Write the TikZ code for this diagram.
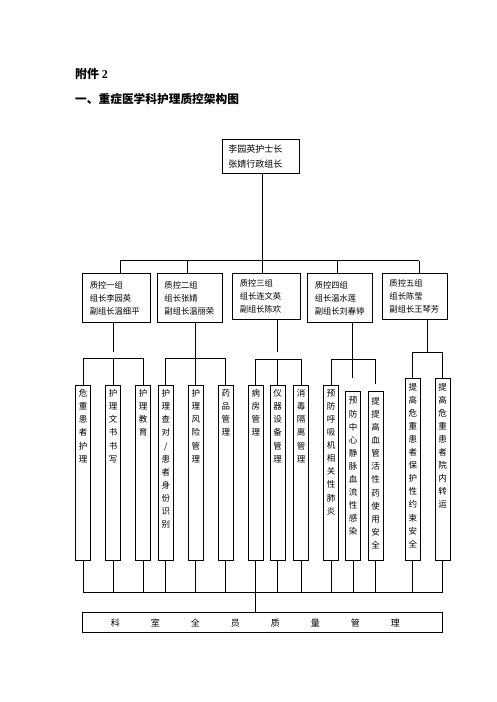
\documentclass[tikz,border=0pt]{standalone}
\usepackage{fontspec}
\setmainfont{Liberation Serif}
\newfontfamily\cjk{Noto Sans CJK SC}
\usetikzlibrary{positioning,calc}
\tikzset{
  org/line/.style={line width=0.9pt},
  org/head/.style={draw, line width=0.9pt, anchor=north west, align=left, inner xsep=6pt, inner ysep=0pt, font=\cjk\fontsize{9}{15.6}\selectfont},
  org/group/.style={draw, line width=0.9pt, anchor=north west, align=left, inner xsep=7pt, inner ysep=0pt, font=\cjk\fontsize{8.3}{13}\selectfont},
  org/col/.style={draw, line width=0.9pt, anchor=north, minimum width=15pt, inner sep=0pt},
  org/coltext/.style={anchor=north, align=center, inner sep=0pt, font=\cjk\fontsize{8.5}{13.1}\selectfont},
  org/all/.style={draw, line width=0.9pt, anchor=north west, minimum width=360pt, minimum height=20pt, text width=360pt, inner xsep=0pt, inner ysep=0pt, align=left, font=\cjk\fontsize{9}{11}\selectfont},
  org/title/.style={anchor=west, inner sep=0pt, font=\cjk\bfseries\fontsize{11.7}{14}\selectfont}
}

\begin{document}
\begin{tikzpicture}[x=1pt,y=-1pt]
\useasboundingbox (0,0) rectangle (496,702);

\node[org/title, font=\cjk\bfseries\fontsize{12}{14}\selectfont] (att) at (75,74) {附件 {\rmfamily\bfseries 2}};
\node[org/title] (sec) at (75,99.3) {一、重症医学科护理质控架构图};

\node[org/head, text width=65pt, minimum height=34pt] (head) at (222,139) {李园英护士长\\张婧行政组长};

\foreach \gn/\gx/\gw/\gh/\gtxt in {
  g1/82.3/54pt/48.4/{质控一组\\组长李园英\\副组长温细平},
  g2/157/50.7pt/48.4/{质控二组\\组长张婧\\副组长温丽荣},
  g3/232.3/54pt/45.7/{质控三组\\组长连文英\\副组长陈欢},
  g4/307.3/50.4pt/48.4/{质控四组\\组长温水莲\\副组长刘春婷},
  g5/382/50.7pt/45.7/{质控五组\\组长陈莹\\副组长王琴芳}}
  \node[org/group, text width=\gw, minimum height=\gh pt] (\gn) at (\gx,273.3) {\gtxt};

\foreach \cn/\cx/\ct/\cf/\ctxt in {
  c1/83.2/385/393.3/{危\\重\\患\\者\\护\\理},
  c2/113/385/393.3/{护\\理\\文\\书\\书\\写},
  c3/143/385/393.3/{护\\理\\教\\育},
  c4/165.8/385/393.3/{护\\理\\查\\对\\/\\患\\者\\身\\份\\识\\别},
  c5/195.8/385/393.3/{护\\理\\风\\险\\管\\理},
  c6/225.8/385/393.3/{药\\品\\管\\理},
  c7/255.8/385/393.3/{病\\房\\管\\理},
  c8/277.7/385/393.3/{仪\\器\\设\\备\\管\\理},
  c9/301/385/393.3/{消\\毒\\隔\\离\\管\\理},
  c10/331/385/393.3/{预\\防\\呼\\吸\\机\\相\\关\\性\\肺\\炎},
  c11/353/390.7/401/{预\\防\\中\\心\\静\\脉\\血\\流\\性\\感\\染},
  c12/375.5/390.7/401/{提\\提\\高\\血\\管\\活\\性\\药\\使\\用\\安\\全},
  c13/412.8/378.3/386.7/{提\\高\\危\\重\\患\\者\\保\\护\\性\\约\\束\\安\\全},
  c14/442.7/378.3/386.7/{提\\高\\危\\重\\患\\者\\院\\内\\转\\运}} {
  \node[org/col, minimum height={560pt-\ct pt}] (\cn) at (\cx,\ct) {};
  \node[org/coltext] (\cn t) at (\cx,\cf-4) {\ctxt};
}

\node[org/all] (all) at (82.3,612.3) {\hspace*{28.2pt}科\hspace{31pt}室\hspace{31pt}全\hspace{31pt}员\hspace{31pt}质\hspace{31pt}量\hspace{31pt}管\hspace{31pt}理};

\coordinate (hub) at (262.3,260.7);
\foreach \i/\x in {1/120,2/187.3,3/262.3,4/337.3,5/419.3}
  \coordinate (b\i) at (\x,260.7);
\draw[org/line] (head.south -| hub) -- (hub);
\draw[org/line] (b1) -- (b5);
\foreach \i in {1,...,5}
  \draw[org/line] (b\i) -- (b\i |- g\i.north);

\coordinate (u1) at (0,358.3);
\coordinate (u2) at (0,358);
\coordinate (u3) at (0,359);
\coordinate (u4) at (0,359);
\coordinate (u5) at (0,352.3);
\coordinate (s1) at (113,352.3);
\coordinate (s3) at (277.7,352.3);
\coordinate (s4) at (352.3,378.3);
\coordinate (s5) at (427.3,352.3);
\coordinate (d12) at (375.5,384.3);

\draw[org/line] (g1.south -| s1) -- (s1);
\draw[org/line] (c1.north |- u1) -- (c3.north |- u1);
\foreach \i in {1,2,3}
  \draw[org/line] (c\i.north |- u1) -- (c\i.north);

\draw[org/line] (g2.south -| c5.north) -- (c5.north);
\draw[org/line] (c4.north |- u2) -- (c6.north |- u2);
\foreach \i in {4,6}
  \draw[org/line] (c\i.north |- u2) -- (c\i.north);

\draw[org/line] (g3.south -| s3) -- (s3);
\draw[org/line] (c7.north |- u3) -- (c9.north |- u3);
\foreach \i in {7,8,9}
  \draw[org/line] (c\i.north |- u3) -- (c\i.north);

\draw[org/line] (g4.south -| s4) -- (s4);
\draw[org/line] (c10.north |- u4) -- (d12 |- u4);
\draw[org/line] (c10.north |- u4) -- (c10.north);
\draw[org/line] (d12 |- u4) -- (d12);

\draw[org/line] (g5.south -| s5) -- (s5);
\draw[org/line] (c13.north |- u5) -- (c14.north |- u5);
\foreach \i in {13,14}
  \draw[org/line] (c\i.north |- u5) -- (c\i.north);

\coordinate (v) at (0,592.7);
\foreach \i in {1,...,14}
  \draw[org/line] (c\i.south) -- (c\i.south |- v);
\draw[org/line] (c1.south |- v) -- (c14.south |- v);
\draw[org/line] (c7.south |- v) -- (c7.south |- all.north);

\end{tikzpicture}
\end{document}
